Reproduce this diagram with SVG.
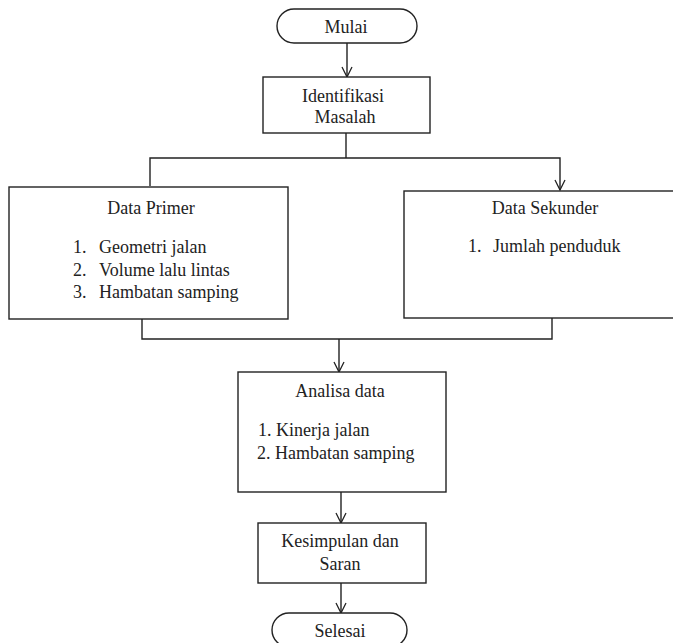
<svg xmlns="http://www.w3.org/2000/svg" width="673" height="643" viewBox="0 0 673 643">
<style>
.box{fill:#fff;stroke:#222;stroke-width:1.4}
.ln{fill:none;stroke:#222;stroke-width:1.4}
.c{text-anchor:middle}
</style>
<defs>
<marker id="arr" viewBox="-11 -6 12 12" refX="0" refY="0" markerWidth="12" markerHeight="12" markerUnits="userSpaceOnUse" orient="auto">
<path d="M-10,-5 L0,0 L-10,5" fill="none" stroke="#222" stroke-width="1.3"/>
</marker>
</defs>
<rect width="673" height="643" fill="#fff"/>
<g id="connectors">
<line class="ln" x1="347" y1="43" x2="347" y2="77" marker-end="url(#arr)"/>
<polyline class="ln" points="346,133 346,158"/>
<polyline class="ln" points="150,186 150,158 560,158 560,190" marker-end="url(#arr)"/>
<polyline class="ln" points="142,319 142,339 552,339 552,318"/>
<line class="ln" x1="339" y1="339" x2="339" y2="372" marker-end="url(#arr)"/>
<line class="ln" x1="341" y1="492" x2="341" y2="523" marker-end="url(#arr)"/>
<line class="ln" x1="341" y1="583" x2="341" y2="613" marker-end="url(#arr)"/>
</g>
<g font-family="Liberation Serif, serif" font-size="18" fill="#222">
<g id="mulai">
<rect class="box" x="277" y="9" width="140" height="34" rx="17" ry="17"/>
<text class="c" x="346" y="33">Mulai</text>
</g>
<g id="identifikasi">
<rect class="box" x="263" y="77" width="167" height="56"/>
<text class="c" x="343" y="102">Identifikasi</text>
<text class="c" x="345" y="123">Masalah</text>
</g>
<g id="data-primer">
<rect class="box" x="9" y="187" width="279" height="132"/>
<text class="c" x="151" y="214">Data Primer</text>
<text x="73" y="253">1.</text>
<text x="99" y="253">Geometri jalan</text>
<text x="73" y="276">2.</text>
<text x="99" y="276">Volume lalu lintas</text>
<text x="73" y="298">3.</text>
<text x="99" y="298">Hambatan samping</text>
</g>
<g id="data-sekunder">
<rect class="box" x="404" y="191" width="272" height="127"/>
<text class="c" x="545" y="214">Data Sekunder</text>
<text x="468" y="252">1.</text>
<text x="493" y="252">Jumlah penduduk</text>
</g>
<g id="analisa">
<rect class="box" x="238" y="372" width="208" height="120"/>
<text class="c" x="340" y="397">Analisa data</text>
<text x="258" y="436">1. Kinerja jalan</text>
<text x="257" y="459">2. Hambatan samping</text>
</g>
<g id="kesimpulan">
<rect class="box" x="258" y="523" width="168" height="60"/>
<text class="c" x="340" y="547">Kesimpulan dan</text>
<text class="c" x="340" y="570">Saran</text>
</g>
<g id="selesai">
<rect class="box" x="272" y="613" width="135" height="34" rx="17" ry="17"/>
<text class="c" x="340" y="637">Selesai</text>
</g>
</g>
</svg>
